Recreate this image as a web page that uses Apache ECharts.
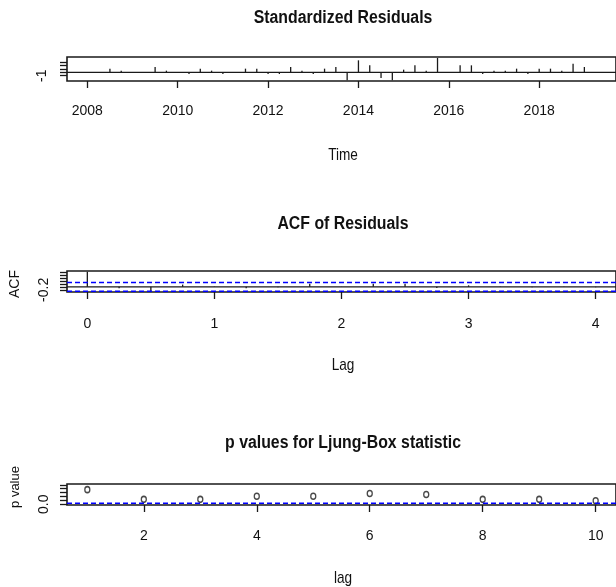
<!DOCTYPE html>
<html>
<head>
<meta charset="utf-8">
<script src="https://cdn.jsdelivr.net/npm/echarts@6/dist/echarts.min.js"></script>
<style>html,body{margin:0;padding:0;background:#fff;}#c{width:616px;height:587px;}</style>
</head>
<body>
<div id="c"></div>
<script>
// ---- Data ----
const resTime = [2008.00, 2008.25, 2008.50, 2008.75, 2009.00, 2009.25, 2009.50, 2009.75,
  2010.00, 2010.25, 2010.50, 2010.75, 2011.00, 2011.25, 2011.50, 2011.75,
  2012.00, 2012.25, 2012.50, 2012.75, 2013.00, 2013.25, 2013.50, 2013.75,
  2014.00, 2014.25, 2014.50, 2014.75, 2015.00, 2015.25, 2015.50, 2015.75,
  2016.00, 2016.25, 2016.50, 2016.75, 2017.00, 2017.25, 2017.50, 2017.75,
  2018.00, 2018.25, 2018.50, 2018.75, 2019.00, 2019.25];
const resValue = [0.05, -0.05, 1.1, 0.5, 0.05, -0.05, 1.6, 0.5,
  0.05, -0.5, 1.1, 0.5, -0.5, 0.05, 1.1, 1.1,
  -0.5, -0.5, 1.6, 0.5, -0.5, 1.1, 1.6, -2.4,
  3.6, 2.1, -1.7, -2.4, 0.8, 2.1, 0.5, 4.3,
  0.05, 2.1, 2.1, -0.5, 0.5, 0.5, 1.1, -0.5,
  1.1, 1.1, 0.5, 2.6, 1.6, 0.05];
const yearTicks = [2008, 2010, 2012, 2014, 2016, 2018];
const resYTicks = [-1, 0, 1, 2, 3];
const resYLabels = [-1];

const acfLag = [0, 0.25, 0.5, 0.75, 1.0, 1.25, 1.5, 1.75, 2.0, 2.25, 2.5, 2.75, 3.0, 3.25, 3.5, 3.75, 4.0];
const acfValue = [1, -0.1, -0.28, 0.15, 0.02, -0.1, -0.02, 0.2, 0.01, 0.2, 0.2, -0.08, 0.1, 0.02, -0.03, 0.02, -0.02];
const acfCI = [0.289, -0.289];
const lagTicks = [0, 1, 2, 3, 4];
const acfYTicks = [-0.2, 0, 0.2, 0.4, 0.6, 0.8, 1.0];
const acfYLabels = [-0.2];

const lbLag = [1, 2, 3, 4, 5, 6, 7, 8, 9, 10];
const lbPValue = [0.75, 0.25, 0.25, 0.41, 0.41, 0.55, 0.50, 0.25, 0.25, 0.18];
const lbThreshold = 0.05;
const lbXTicks = [2, 4, 6, 8, 10];
const lbYTicks = [0, 0.2, 0.4, 0.6, 0.8, 1.0];
const lbYLabels = [0];

// ---- Styles ----
const SANS = "'Liberation Sans', Arial, sans-serif";
const INK = '#1a1a1a';

const xr = [[2007.55, 2019.70], [-0.16, 4.16], [0.64, 10.36]];
const yr = [[-2.6, 4.6], [-0.341, 1.052], [-0.04, 1.04]];

function hline(gi, y, color, type, width) {
  return {
    type: 'line', xAxisIndex: gi, yAxisIndex: gi, silent: true, animation: false,
    symbol: 'none', data: [[xr[gi][0], y], [xr[gi][1], y]],
    lineStyle: { color: color, width: width, type: type }
  };
}
function spikes(gi, xs, ys) {
  return {
    type: 'custom', xAxisIndex: gi, yAxisIndex: gi, silent: true, animation: false,
    data: xs.map((x, i) => [x, ys[i]]),
    renderItem: function (params, api) {
      const p0 = api.coord([api.value(0), 0]);
      const p1 = api.coord([api.value(0), api.value(1)]);
      return { type: 'line', shape: { x1: p0[0], y1: p0[1], x2: p1[0], y2: p1[1] },
        style: { stroke: INK, lineWidth: 1.3 } };
    }
  };
}
function xAxis(gi, ticks, margin) {
  return {
    type: 'value', gridIndex: gi, min: xr[gi][0], max: xr[gi][1],
    axisLine: { show: false, onZero: false }, splitLine: { show: false },
    axisTick: { show: true, length: 7, customValues: ticks, lineStyle: { color: INK, width: 1.3 } },
    axisLabel: { customValues: ticks, margin: margin, fontSize: 14, fontFamily: SANS, color: '#111',
      formatter: v => String(v) }
  };
}
function yAxis(gi, ticks, labels, fmt, margin) {
  return {
    type: 'value', gridIndex: gi, min: yr[gi][0], max: yr[gi][1],
    axisLine: { show: false, onZero: false }, splitLine: { show: false },
    axisTick: { show: true, length: 7, customValues: ticks, lineStyle: { color: INK, width: 1.3 } },
    axisLabel: { customValues: labels, rotate: 90, margin: margin, fontSize: 14, fontFamily: SANS, color: '#111',
      formatter: fmt }
  };
}
function txt(x, y, s, size, weight, rot, sx) {
  return { type: 'text', x: x, y: y, rotation: rot || 0, scaleX: sx || 1, silent: true,
    style: { text: s, fontSize: size, fontWeight: weight, fontFamily: SANS, fill: '#111',
      align: 'center', verticalAlign: 'middle' } };
}

const gridBase = { show: true, borderColor: INK, borderWidth: 1.6, backgroundColor: 'transparent' };
const option = {
  animation: false,
  backgroundColor: '#fff',
  grid: [
    Object.assign({ left: 67, top: 57, height: 24, right: -15 }, gridBase),
    Object.assign({ left: 67, top: 271, height: 21, right: -6 }, gridBase),
    Object.assign({ left: 67, top: 484, height: 21, right: -2 }, gridBase)
  ],
  xAxis: [xAxis(0, yearTicks, 23), xAxis(1, lagTicks, 25), xAxis(2, lbXTicks, 24)],
  yAxis: [
    yAxis(0, resYTicks, resYLabels, v => String(v), 18),
    yAxis(1, acfYTicks, acfYLabels, v => v.toFixed(1), 16),
    yAxis(2, lbYTicks, lbYLabels, v => v.toFixed(1), 16)
  ],
  series: [
    spikes(0, resTime, resValue),
    hline(0, 0, INK, 'solid', 1.3),
    hline(1, 0, INK, 'solid', 1.3),
    spikes(1, acfLag, acfValue),
    hline(1, acfCI[0], '#0000ff', [5, 3], 1.6),
    hline(1, acfCI[1], '#0000ff', [5, 3], 1.6),
    hline(2, lbThreshold, '#0000ff', [5, 3], 1.6),
    {
      type: 'scatter', xAxisIndex: 2, yAxisIndex: 2, silent: true, animation: false,
      data: lbLag.map((l, i) => [l, lbPValue[i]]),
      symbol: 'circle', symbolSize: [5, 6],
      itemStyle: { color: '#fff', borderColor: INK, borderWidth: 1.4 }
    }
  ],
  graphic: [
    txt(343, 18, 'Standardized Residuals', 18, 'bold', 0, 0.88),
    txt(343, 155, 'Time', 17, 'normal', 0, 0.8),
    txt(343, 224, 'ACF of Residuals', 18, 'bold', 0, 0.88),
    txt(343, 365, 'Lag', 17, 'normal', 0, 0.8),
    txt(15, 284, 'ACF', 14, 'normal', Math.PI / 2),
    txt(343, 443, 'p values for Ljung-Box statistic', 18, 'bold', 0, 0.88),
    txt(343, 578, 'lag', 17, 'normal', 0, 0.8),
    txt(15, 487, 'p value', 13, 'normal', Math.PI / 2)
  ]
};
const chart = echarts.init(document.getElementById('c'), null, { renderer: 'canvas' });
chart.setOption(option);
</script>
</body>
</html>
